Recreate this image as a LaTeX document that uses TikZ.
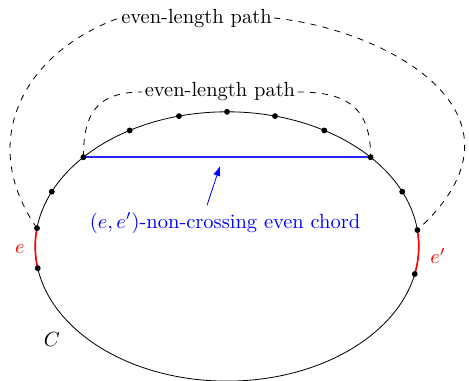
\documentclass[tikz,border=0pt]{standalone}
\usepackage{xcolor}
\usepackage{amsmath}
\usepackage{amssymb}
\usepackage{tikz}
\usetikzlibrary{arrows.meta,calc,positioning}
\definecolor{kenarKirmizi}{HTML}{FF0000}
\definecolor{kirisMavi}{HTML}{0000FF}
\definecolor{koyuSiyah}{HTML}{000000}

\begin{document}
\begin{tikzpicture}[scale=1.0,
  yolEtiket/.style={fill=white,inner sep=1pt}]
\useasboundingbox (-3.894,-2.307) rectangle (4.151,4.228);
\draw[koyuSiyah] (0,0) ellipse (3.29 and 2.31);
\foreach \k/\aci in {1/7,2/-11.8,3/24,4/41.5,5/59.5,6/75.5,7/90,8/104.5,9/120.5,10/138.5,11/156,12/172.2,13/189.3}{
  \coordinate (v\k) at (\aci:3.29 and 2.31);
}
\draw[kenarKirmizi,thick] (v12) arc[start angle=172.2,end angle=189.3,x radius=3.29,y radius=2.31];
\draw[kenarKirmizi,thick] (v1) arc[start angle=7,end angle=-11.8,x radius=3.29,y radius=2.31];
\draw[kirisMavi!85,line width=0.8pt] (v10) -- (v4);
\foreach \k in {1,2,...,13}{
  \filldraw[koyuSiyah] (v\k) circle (1.2pt);
}
\node[yolEtiket] (disEtiket) at (-0.523,3.919) {even-length path};
\node[yolEtiket] (icEtiket) at (-0.120,2.650) {even-length path};
\draw[dashed] (v12) .. controls +(-1.03,1.48) and +(-1.65,-0.6) .. (disEtiket.west);
\draw[dashed] (disEtiket.east) .. controls +(1.89,-0.19) and +(2.2,2.0) .. (v1);
\draw[dashed] (v10) to[out=90,in=180,looseness=1.3] (icEtiket.west);
\draw[dashed] (icEtiket.east) to[out=0,in=90,looseness=1.3] (v4);
\node[kirisMavi] (kirisEtiket) at (-0.034,0.403) {$(e,e')$-non-crossing even chord};
\coordinate (okUcu) at (-0.12,1.38);
\draw[kirisMavi,-{Latex}] ($(kirisEtiket.north)+(-0.31,0)$) -- (okUcu);
\node[kenarKirmizi] (eEtiket) at (-3.551,-0.043) {$e$};
\node[kenarKirmizi] (ePrimeEtiket) at (3.619,-0.163) {$e'$};
\node[koyuSiyah] (cEtiket) at (-3.002,-1.604) {$C$};
\end{tikzpicture}
\end{document}
